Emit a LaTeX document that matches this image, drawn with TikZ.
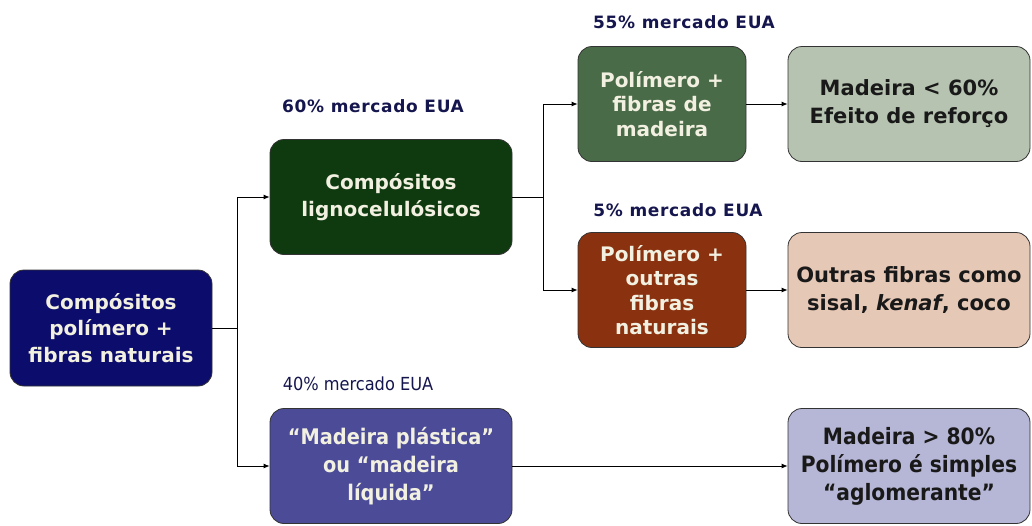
\documentclass[tikz,border=0pt]{standalone}
\usepackage{fontspec}
\setmainfont{DejaVu Sans}
\newfontfamily\condfont{DejaVu Sans Condensed}
\newfontfamily\lblfont[LetterSpace=4]{DejaVu Sans}
\usetikzlibrary{arrows.meta}
\definecolor{cA}{HTML}{0C0C6C}
\definecolor{cB}{HTML}{0F3A10}
\definecolor{cC}{HTML}{4A6B48}
\definecolor{cD}{HTML}{B6C3B0}
\definecolor{cE}{HTML}{8A3210}
\definecolor{cF}{HTML}{E6C8B6}
\definecolor{cG}{HTML}{4B4B98}
\definecolor{cH}{HTML}{B6B6D6}
\definecolor{lbl}{HTML}{16164E}
\definecolor{cream}{HTML}{F2F0E0}
\begin{document}
\begin{tikzpicture}[x=1pt,y=-1pt,
  boxstyle/.style={draw=black!80, line width=0.8pt, rounded corners=14pt, align=center, inner sep=0pt},
  darkbox/.style={boxstyle, text=cream, font=\bfseries\fontsize{20}{26.5}\selectfont},
  lightbox/.style={boxstyle, text=black!90, font=\bfseries\fontsize{21}{28}\selectfont},
  lbltext/.style={text=lbl, font=\lblfont\bfseries\fontsize{17}{20}\selectfont},
  conn/.style={draw=black, line width=0.8pt},
  arr/.style={conn, -{Latex[length=6pt,width=5pt]}}
]
\useasboundingbox (0,0) rectangle (1032,525);
\node[darkbox, fill=cA, minimum width=202pt, minimum height=116pt] (A) at (111,328) {Compósitos\\polímero +\\fibras naturais};
\node[darkbox, fill=cB, minimum width=242pt, minimum height=115pt] (B) at (391,197) {Compósitos\\lignocelulósicos};
\node[darkbox, fill=cC, minimum width=168pt, minimum height=115pt, font=\bfseries\fontsize{20}{24.5}\selectfont] (C) at (662,104) {Polímero +\\fibras de\\madeira};
\node[lightbox, fill=cD, minimum width=242pt, minimum height=115pt] (D) at (909,104) {Madeira < 60\%\\Efeito de reforço};
\node[darkbox, fill=cE, minimum width=168pt, minimum height=115pt, font=\bfseries\fontsize{20}{24.5}\selectfont] (E) at (662,290) {Polímero +\\outras\\fibras\\naturais};
\node[lightbox, fill=cF, minimum width=242pt, minimum height=115pt] (F) at (909,290) {Outras fibras como\\sisal, \textit{kenaf}, coco};
\node[darkbox, fill=cG, minimum width=242pt, minimum height=115pt, font=\condfont\bfseries\fontsize{21.5}{28}\selectfont] (G) at (391,466) {“Madeira plástica”\\ou “madeira\\líquida”};
\node[lightbox, fill=cH, minimum width=242pt, minimum height=115pt, font=\condfont\bfseries\fontsize{22.5}{28}\selectfont] (H) at (909,466) {Madeira > 80\%\\Polímero é simples\\“aglomerante”};

\node[lbltext] (lB) at (373,106) {60\% mercado EUA};
\node[lbltext] (lC) at (684,22) {55\% mercado EUA};
\node[lbltext] (lE) at (678,210) {5\% mercado EUA};
\node[lbltext, font=\condfont\fontsize{18}{21}\selectfont] (lG) at (358,384) {40\% mercado EUA};

\coordinate (j1) at (237,328);
\coordinate (j2) at (543,197);
\draw[conn] (A.east) -- (j1);
\draw[arr] (j1) |- (B.west);
\draw[arr] (j1) |- (G.west);
\draw[conn] (B.east) -- (j2);
\draw[arr] (j2) |- (C.west);
\draw[arr] (j2) |- (E.west);
\draw[arr] (C) -- (D);
\draw[arr] (E) -- (F);
\draw[arr] (G) -- (H);
\end{tikzpicture}
\end{document}
